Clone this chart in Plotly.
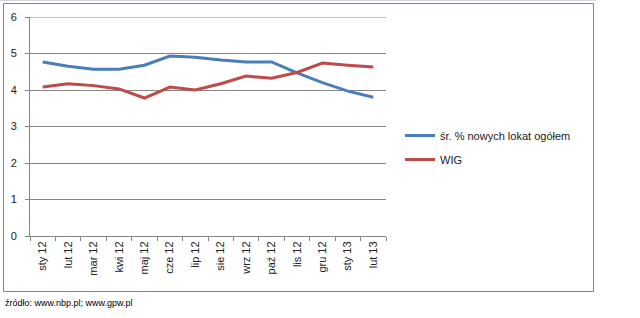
import plotly.graph_objects as go

categories = ["sty 12", "lut 12", "mar 12", "kwi 12", "maj 12", "cze 12", "lip 12",
              "sie 12", "wrz 12", "paź 12", "lis 12", "gru 12", "sty 13", "lut 13"]
lokaty = [4.77, 4.65, 4.57, 4.57, 4.68, 4.93, 4.90, 4.82, 4.77, 4.77, 4.47, 4.20, 3.97, 3.80]
wig = [4.08, 4.17, 4.12, 4.03, 3.78, 4.08, 4.00, 4.17, 4.38, 4.32, 4.48, 4.74, 4.68, 4.63]
y_ticks = [0, 1, 2, 3, 4, 5, 6]

W, H = 640, 318
L, R, T, B = 30, 386, 17, 236

def px(x):
    return (x - L) / (R - L)

def py(y):
    return (B - y) / (B - T)

fig = go.Figure()
fig.add_trace(go.Scatter(x=categories, y=lokaty, mode="lines", name="śr. % nowych lokat ogółem",
                         line=dict(color="#4A7EBB", width=3), legendgroup="a"))
fig.add_trace(go.Scatter(x=categories, y=wig, mode="lines", name="WIG",
                         line=dict(color="#BE4B48", width=3), legendgroup="b"))

fig.update_layout(
    width=W, height=H,
    margin=dict(l=L, r=W - R, t=T, b=H - B),
    paper_bgcolor="white", plot_bgcolor="white",
    font=dict(family="Liberation Sans, Arial, sans-serif", size=11, color="#222222"),
    showlegend=True,
    legend=dict(x=px(400), y=py(121), xanchor="left", yanchor="top",
                bgcolor="rgba(0,0,0,0)", tracegroupgap=5, traceorder="grouped",
                font=dict(size=11, color="#222222")),
    xaxis=dict(type="category", showgrid=False, showline=True, linecolor="#868686", linewidth=1,
               ticks="outside", tickson="boundaries", ticklen=4, tickcolor="#868686",
               tickangle=-90, tickfont=dict(size=11), range=[-0.5, len(categories) - 0.5]),
    yaxis=dict(range=[0, 6], tickvals=y_ticks, showgrid=True, gridcolor="#868686", gridwidth=1,
               showline=True, linecolor="#868686", linewidth=1, ticks="outside", ticklen=4,
               tickcolor="#868686", zeroline=False, tickfont=dict(size=11),
               ticklabelstandoff=6),
)

# top gridline at the axis maximum
fig.add_shape(type="line", xref="paper", yref="y", x0=0, x1=1, y0=y_ticks[-1], y1=y_ticks[-1],
              line=dict(color="#868686", width=1))
fig.add_shape(type="line", xref="paper", yref="y", x0=px(26), x1=0, y0=y_ticks[-1], y1=y_ticks[-1],
              line=dict(color="#868686", width=1))

# outer chart border
fig.add_shape(type="rect", xref="paper", yref="paper",
              x0=px(3.5), x1=px(593.5), y0=py(291.5), y1=py(3.5),
              line=dict(color="#868686", width=1), fillcolor="rgba(0,0,0,0)", layer="below")
# faint spreadsheet line at top
fig.add_shape(type="line", xref="paper", yref="paper",
              x0=px(0), x1=px(596), y0=py(0.5), y1=py(0.5),
              line=dict(color="#D0D7E0", width=1))

fig.add_annotation(text="źródło: www.nbp.pl; www.gpw.pl", xref="paper", yref="paper",
                   x=px(3), y=py(303), xanchor="left", yanchor="middle", showarrow=False,
                   font=dict(family="Liberation Sans, Arial, sans-serif", size=9, color="#000000"))

fig.write_html("out.html")
